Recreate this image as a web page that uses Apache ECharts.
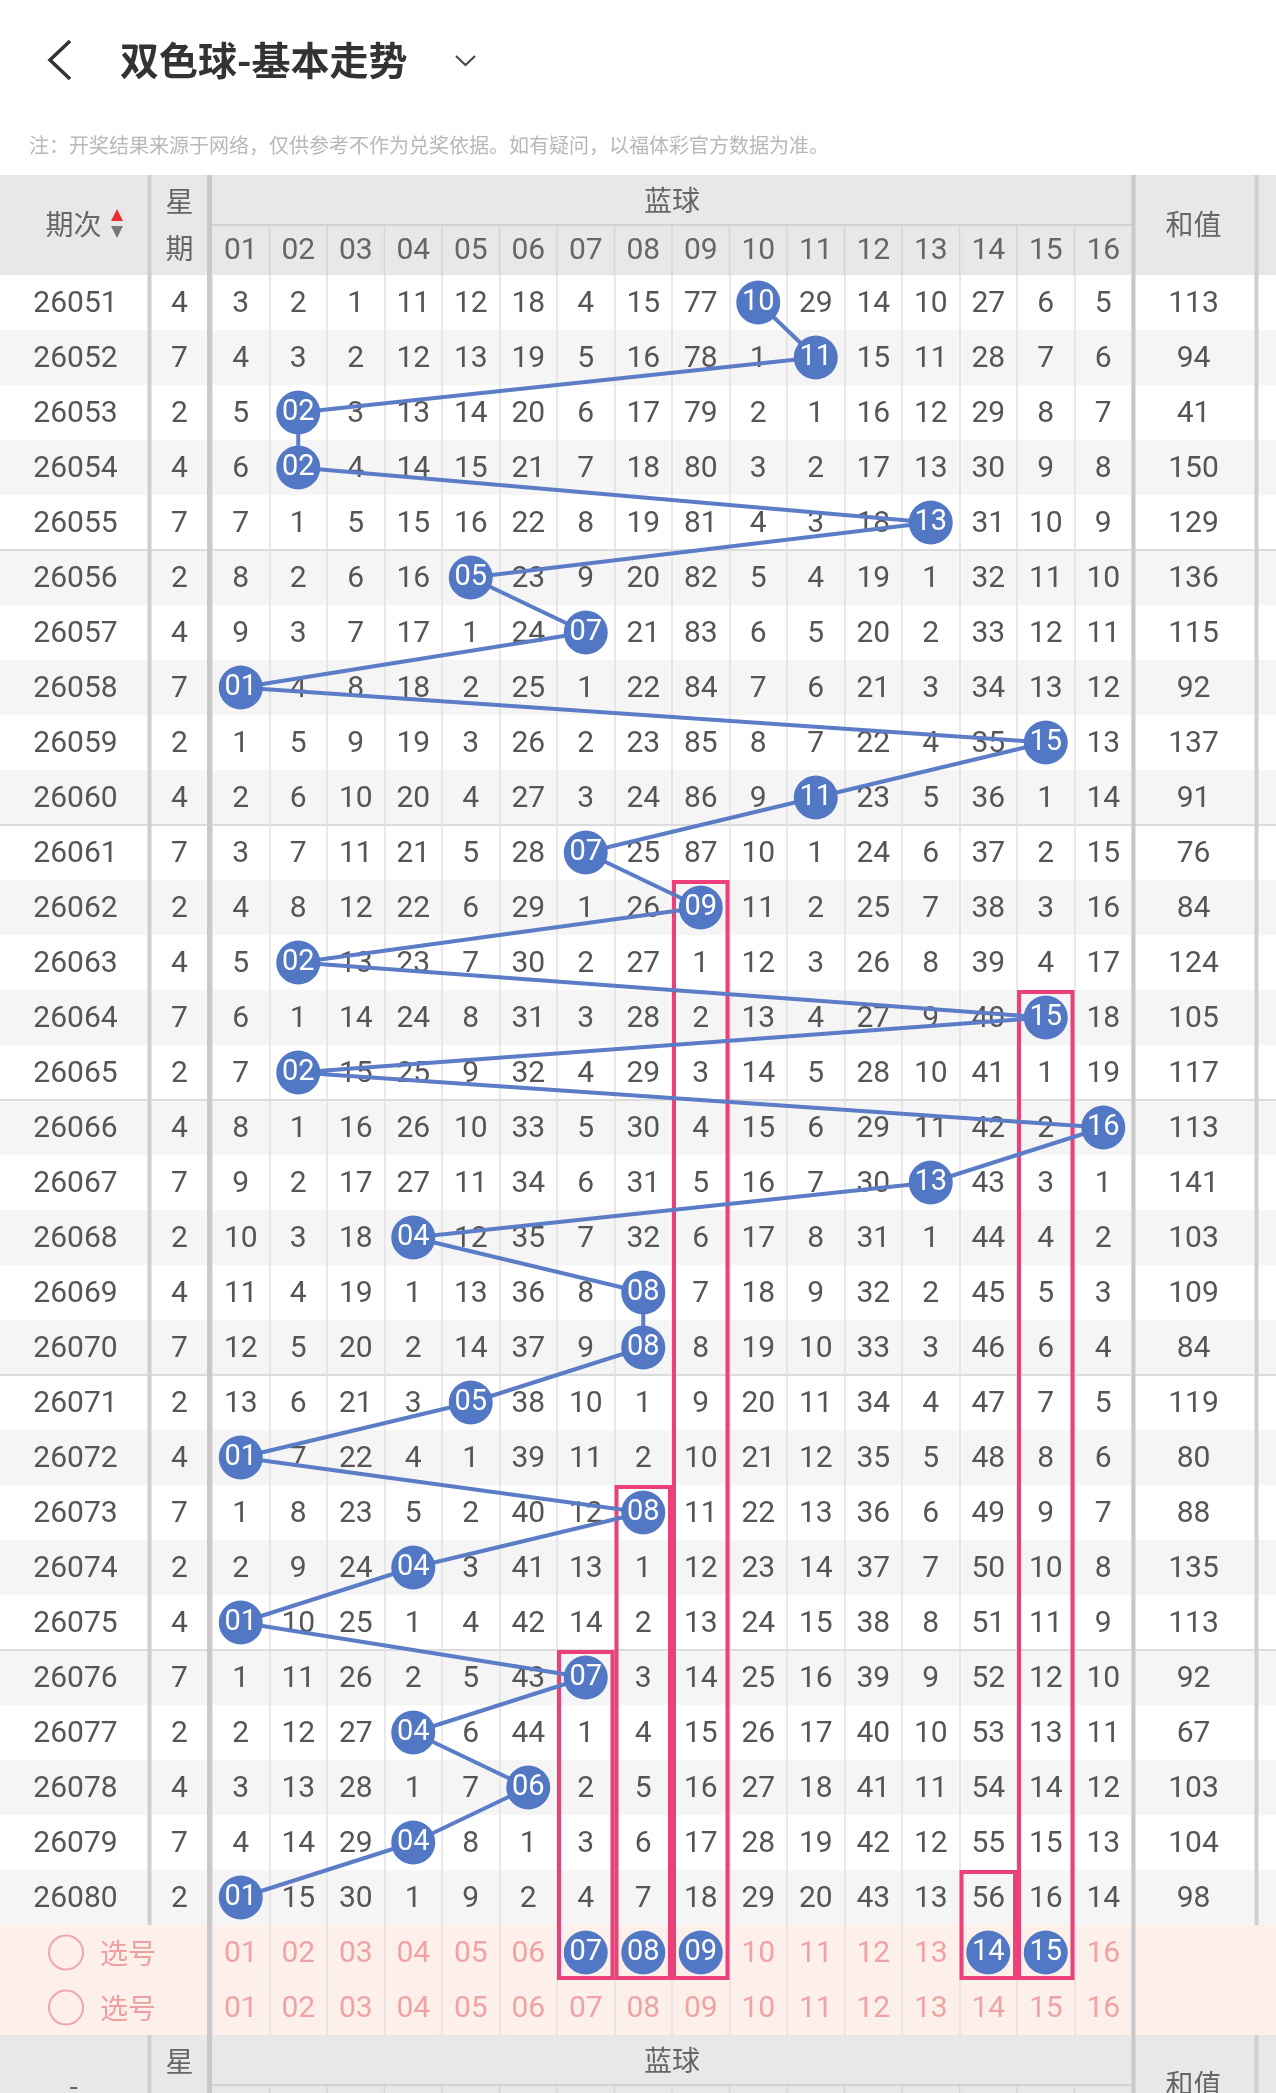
<!DOCTYPE html>
<html>
<head>
<meta charset="utf-8">
<title>双色球-基本走势</title>
<script src="https://cdn.jsdelivr.net/npm/echarts@6.0.0/dist/echarts.min.js"></script>
<style>
  html, body { margin: 0; padding: 0; background: #fff; }
  #chart { width: 1276px; height: 2093px; }
</style>
</head>
<body>
<div id="chart"></div>
<script>
// 期次 / 星期 / 和值
const periods = ['26051', '26052', '26053', '26054', '26055', '26056', '26057', '26058', '26059', '26060',
  '26061', '26062', '26063', '26064', '26065', '26066', '26067', '26068', '26069', '26070',
  '26071', '26072', '26073', '26074', '26075', '26076', '26077', '26078', '26079', '26080'];
const weekdays = [4, 7, 2, 4, 7, 2, 4, 7, 2, 4, 7, 2, 4, 7, 2, 4, 7, 2, 4, 7, 2, 4, 7, 2, 4, 7, 2, 4, 7, 2];
const sums = [113, 94, 41, 150, 129, 136, 115, 92, 137, 91, 76, 84, 124, 105, 117, 113, 141, 103, 109, 84,
  119, 80, 88, 135, 113, 92, 67, 103, 104, 98];
const balls = ['01', '02', '03', '04', '05', '06', '07', '08', '09', '10', '11', '12', '13', '14', '15', '16'];

// 遗漏值，0 = 当期开出的蓝球
const omission = [
  [3, 2, 1, 11, 12, 18, 4, 15, 77, 0, 29, 14, 10, 27, 6, 5],
  [4, 3, 2, 12, 13, 19, 5, 16, 78, 1, 0, 15, 11, 28, 7, 6],
  [5, 0, 3, 13, 14, 20, 6, 17, 79, 2, 1, 16, 12, 29, 8, 7],
  [6, 0, 4, 14, 15, 21, 7, 18, 80, 3, 2, 17, 13, 30, 9, 8],
  [7, 1, 5, 15, 16, 22, 8, 19, 81, 4, 3, 18, 0, 31, 10, 9],
  [8, 2, 6, 16, 0, 23, 9, 20, 82, 5, 4, 19, 1, 32, 11, 10],
  [9, 3, 7, 17, 1, 24, 0, 21, 83, 6, 5, 20, 2, 33, 12, 11],
  [0, 4, 8, 18, 2, 25, 1, 22, 84, 7, 6, 21, 3, 34, 13, 12],
  [1, 5, 9, 19, 3, 26, 2, 23, 85, 8, 7, 22, 4, 35, 0, 13],
  [2, 6, 10, 20, 4, 27, 3, 24, 86, 9, 0, 23, 5, 36, 1, 14],
  [3, 7, 11, 21, 5, 28, 0, 25, 87, 10, 1, 24, 6, 37, 2, 15],
  [4, 8, 12, 22, 6, 29, 1, 26, 0, 11, 2, 25, 7, 38, 3, 16],
  [5, 0, 13, 23, 7, 30, 2, 27, 1, 12, 3, 26, 8, 39, 4, 17],
  [6, 1, 14, 24, 8, 31, 3, 28, 2, 13, 4, 27, 9, 40, 0, 18],
  [7, 0, 15, 25, 9, 32, 4, 29, 3, 14, 5, 28, 10, 41, 1, 19],
  [8, 1, 16, 26, 10, 33, 5, 30, 4, 15, 6, 29, 11, 42, 2, 0],
  [9, 2, 17, 27, 11, 34, 6, 31, 5, 16, 7, 30, 0, 43, 3, 1],
  [10, 3, 18, 0, 12, 35, 7, 32, 6, 17, 8, 31, 1, 44, 4, 2],
  [11, 4, 19, 1, 13, 36, 8, 0, 7, 18, 9, 32, 2, 45, 5, 3],
  [12, 5, 20, 2, 14, 37, 9, 0, 8, 19, 10, 33, 3, 46, 6, 4],
  [13, 6, 21, 3, 0, 38, 10, 1, 9, 20, 11, 34, 4, 47, 7, 5],
  [0, 7, 22, 4, 1, 39, 11, 2, 10, 21, 12, 35, 5, 48, 8, 6],
  [1, 8, 23, 5, 2, 40, 12, 0, 11, 22, 13, 36, 6, 49, 9, 7],
  [2, 9, 24, 0, 3, 41, 13, 1, 12, 23, 14, 37, 7, 50, 10, 8],
  [0, 10, 25, 1, 4, 42, 14, 2, 13, 24, 15, 38, 8, 51, 11, 9],
  [1, 11, 26, 2, 5, 43, 0, 3, 14, 25, 16, 39, 9, 52, 12, 10],
  [2, 12, 27, 0, 6, 44, 1, 4, 15, 26, 17, 40, 10, 53, 13, 11],
  [3, 13, 28, 1, 7, 0, 2, 5, 16, 27, 18, 41, 11, 54, 14, 12],
  [4, 14, 29, 0, 8, 1, 3, 6, 17, 28, 19, 42, 12, 55, 15, 13],
  [0, 15, 30, 1, 9, 2, 4, 7, 18, 29, 20, 43, 13, 56, 16, 14]
];

// 选号行
const pickRows = ['选号1', '选号2'];
const pickedBalls = ['07', '08', '09', '14', '15'];
// 粉色框：号码 / 起始期次
const boxBalls = ['09', '15', '08', '07', '14'];
const boxFrom = ['26062', '26064', '26073', '26076', '26080'];

const rows = periods.concat(pickRows);
const NUM_FONT = 'Roboto, "Noto Sans CJK SC", sans-serif';
const CJK_FONT = '"Noto Sans CJK SC", sans-serif';
const TXT = '#555555';
const PINK_TXT = '#f0a3a3';
const BLUE = '#5277c4';

// 布局
const W = 1276;
const headTop = 175;
const rowTop = 275;
const rowH = 55;
const bodyH = rows.length * rowH;
const cols = [
  {left: 0, width: 151},     // 期次
  {left: 152, width: 55},    // 星期
  {left: 212, width: 920},   // 蓝球
  {left: 1135, width: 117}   // 和值
];
const colW = cols[2].width / balls.length;

const chart = echarts.init(document.getElementById('chart'));

function textEl(x, y, text, size, color, font, weight) {
  return {
    type: 'text', x: x, y: y, z: 10,
    style: {
      text: text, fill: color, fontSize: size, fontFamily: font || CJK_FONT,
      fontWeight: weight || 'normal', align: 'center', verticalAlign: 'middle'
    }
  };
}

function vline(x, y1, y2, color, width) {
  return {type: 'line', z: 10, shape: {x1: x, y1: y1, x2: x, y2: y2}, style: {stroke: color, lineWidth: width}};
}

// 表头（顶部和底部重复）
function header(y0, firstLabel, withSort) {
  const els = [];
  els.push({type: 'rect', z: 0, shape: {x: 0, y: y0, width: W, height: 100}, style: {fill: '#e8e8e8'}});
  els.push(textEl(73.5, y0 + (withSort ? 49 : 50), firstLabel, 28, '#666'));
  if (withSort) {
    els.push({type: 'polygon', z: 10, shape: {points: [[117, y0 + 34], [111, y0 + 46], [123, y0 + 46]]}, style: {fill: '#e8302f'}});
    els.push({type: 'polygon', z: 10, shape: {points: [[111, y0 + 51], [123, y0 + 51], [117, y0 + 63]]}, style: {fill: '#777'}});
  }
  els.push(textEl(179.5, y0 + 26, '星', 28, '#666'));
  els.push(textEl(179.5, y0 + 73, '期', 28, '#666'));
  els.push(textEl(cols[2].left + cols[2].width / 2, y0 + 25, '蓝球', 28, '#666'));
  els.push(textEl(cols[3].left + cols[3].width / 2, y0 + 49, '和值', 28, '#666'));
  els.push({type: 'line', z: 10, shape: {x1: cols[2].left, y1: y0 + 50, x2: cols[2].left + cols[2].width, y2: y0 + 50},
    style: {stroke: '#d2d2d2', lineWidth: 2}});
  for (let k = 1; k < balls.length; k++) {
    els.push(vline(cols[2].left + k * colW, y0 + 51, y0 + 100, '#d6d6d6', 1.5));
  }
  return els;
}

const bottomHead = rowTop + bodyH;
const lastRowBottom = rowTop + periods.length * rowH;

const graphics = [
  {type: 'polyline', z: 10, shape: {points: [[70, 41], [50, 60], [70, 79]]}, style: {stroke: '#333', lineWidth: 3.5, fill: null}},
  {type: 'text', x: 120, y: 60, z: 10, style: {text: '双色球-基本走势', fontSize: 39, fontWeight: 'bold', fill: '#333',
    fontFamily: CJK_FONT, align: 'left', verticalAlign: 'middle'}},
  {type: 'polyline', z: 10, shape: {points: [[456, 56], [465.5, 65], [475, 56]]}, style: {stroke: '#444', lineWidth: 2, fill: null}},
  {type: 'text', x: 29, y: 145, z: 10, style: {text: '注：开奖结果来源于网络，仅供参考不作为兑奖依据。如有疑问，以福体彩官方数据为准。',
    fontSize: 20, fill: '#b8b8b8', fontFamily: CJK_FONT, align: 'left', verticalAlign: 'middle'}}
].concat(header(headTop, '期次', true), header(bottomHead, '-', false));

// 分隔竖线
graphics.push(vline(149.5, headTop, lastRowBottom, '#cfcfcf', 4));
graphics.push(vline(149.5, bottomHead, 2093, '#cfcfcf', 4));
graphics.push(vline(209.5, headTop, 2093, '#c9c9c9', 5));
graphics.push(vline(1133.5, headTop, 2093, '#c9c9c9', 4));
graphics.push(vline(1256.5, headTop, lastRowBottom, '#cfcfcf', 4));
graphics.push(vline(1256.5, bottomHead, 2093, '#cfcfcf', 4));

// 各列的网格和坐标轴
const grids = cols.map(c => ({left: c.left, width: c.width, top: rowTop, height: bodyH}));
const xAxes = [
  {gridIndex: 0, type: 'category', data: ['期次'], show: false},
  {gridIndex: 1, type: 'category', data: ['星期'], show: false},
  {gridIndex: 2, type: 'category', data: balls, position: 'top', z: 3,
    axisLine: {show: false}, axisTick: {show: false},
    axisLabel: {show: true, interval: 0, margin: 24, verticalAlign: 'middle', fontSize: 30, color: '#666', fontFamily: NUM_FONT},
    splitLine: {show: true, interval: 0, lineStyle: {color: '#e0e0e0', width: 1.5}}},
  {gridIndex: 3, type: 'category', data: ['和值'], show: false}
];
const yAxes = cols.map((c, i) => ({gridIndex: i, type: 'category', data: rows, inverse: true, show: false}));

// 行背景 + 每5期分隔线
function renderRowBg(params, api) {
  const i = params.dataIndex;
  const y = api.coord([0, i])[1];
  const h = api.size([0, 1])[1];
  const top = y - h / 2;
  const fill = i >= periods.length ? '#fdf0eb' : (i % 2 ? '#f5f5f5' : '#ffffff');
  const children = [{type: 'rect', shape: {x: 0, y: top, width: api.getWidth(), height: h}, style: {fill: fill}}];
  if (i > 0 && i < periods.length && i % 5 === 0) {
    children.push({type: 'line', shape: {x1: 0, y1: top, x2: api.getWidth(), y2: top}, style: {stroke: '#dcdcdc', lineWidth: 2}});
  }
  return {type: 'group', children: children};
}

function cellText(p, text, color) {
  return {type: 'text', x: p[0], y: p[1] + 2,
    style: {text: text, fill: color, fontSize: 30, fontFamily: NUM_FONT, align: 'center', verticalAlign: 'middle'}};
}

// 期次列（含选号标签）
function renderPeriod(params, api) {
  const i = params.dataIndex;
  const p = api.coord([0, i]);
  if (i < periods.length) return cellText(p, periods[i], TXT);
  return {type: 'group', children: [
    {type: 'circle', shape: {cx: p[0] - 9.5, cy: p[1], r: 17}, style: {fill: null, stroke: '#f0a8a8', lineWidth: 2}},
    {type: 'text', x: p[0] + 52.5, y: p[1] + 1, style: {text: '选号', fill: '#ef9f9f', fontSize: 28, fontFamily: CJK_FONT,
      align: 'center', verticalAlign: 'middle'}}
  ]};
}

// 蓝球遗漏数字
const cellData = [];
const cellLabels = [];
const cellColors = [];
omission.forEach((row, r) => row.forEach((v, c) => {
  if (v > 0) { cellData.push([c, r]); cellLabels.push(String(v)); cellColors.push(TXT); }
}));
pickRows.forEach((name, k) => balls.forEach((b, c) => {
  if (k === 0 && pickedBalls.indexOf(b) >= 0) return;
  cellData.push([c, periods.length + k]); cellLabels.push(b); cellColors.push(PINK_TXT);
}));

function renderCell(params, api) {
  const p = api.coord([api.value(0), api.value(1)]);
  return cellText(p, cellLabels[params.dataIndex], cellColors[params.dataIndex]);
}

// 粉色框
const boxData = boxBalls.map((b, k) => [balls.indexOf(b), periods.indexOf(boxFrom[k]), periods.length]);
function renderBox(params, api) {
  const a = api.coord([api.value(0), api.value(1)]);
  const b = api.coord([api.value(0), api.value(2)]);
  const sz = api.size([1, 1]);
  const x = a[0] - sz[0] / 2 + 2;
  const y = a[1] - sz[1] / 2 + 2;
  return {type: 'rect', shape: {x: x, y: y, width: sz[0] - 4, height: b[1] + sz[1] / 2 - y - 2},
    style: {fill: null, stroke: '#ec407a', lineWidth: 4}};
}

const drawLine = periods.map((p, i) => [balls[omission[i].indexOf(0)], p]);
const pickData = pickedBalls.map(b => [b, pickRows[0]]);
const ballLabel = {show: true, position: 'inside', formatter: p => p.value[0], color: '#fff', fontSize: 29, fontFamily: NUM_FONT};

const option = {
  animation: false,
  backgroundColor: '#fff',
  graphic: {elements: graphics},
  grid: grids,
  xAxis: xAxes,
  yAxis: yAxes,
  series: [
    {type: 'custom', xAxisIndex: 0, yAxisIndex: 0, z: 1, silent: true, renderItem: renderRowBg,
      data: rows.map((r, i) => [0, i])},
    {type: 'custom', xAxisIndex: 0, yAxisIndex: 0, z: 4, silent: true, renderItem: renderPeriod,
      data: rows.map((r, i) => [0, i])},
    {type: 'custom', xAxisIndex: 1, yAxisIndex: 1, z: 4, silent: true,
      renderItem: (params, api) => cellText(api.coord([0, params.dataIndex]), String(weekdays[params.dataIndex]), TXT),
      data: weekdays.map((w, i) => [0, i])},
    {type: 'custom', xAxisIndex: 3, yAxisIndex: 3, z: 4, silent: true,
      renderItem: (params, api) => cellText(api.coord([0, params.dataIndex]), String(sums[params.dataIndex]), TXT),
      data: sums.map((s, i) => [0, i])},
    {type: 'custom', xAxisIndex: 2, yAxisIndex: 2, z: 4, silent: true, renderItem: renderCell,
      encode: {x: 0, y: 1}, data: cellData},
    {type: 'custom', xAxisIndex: 2, yAxisIndex: 2, z: 5, silent: true, renderItem: renderBox,
      encode: {x: 0, y: [1, 2]}, data: boxData},
    {type: 'line', xAxisIndex: 2, yAxisIndex: 2, z: 6, silent: true, data: drawLine,
      symbol: 'circle', symbolSize: 44, showAllSymbol: true,
      lineStyle: {color: '#5b7cc6', width: 4}, itemStyle: {color: BLUE, opacity: 1}, label: ballLabel},
    {type: 'scatter', xAxisIndex: 2, yAxisIndex: 2, z: 7, silent: true, data: pickData,
      symbol: 'circle', symbolSize: 44, itemStyle: {color: BLUE, opacity: 1}, label: ballLabel}
  ]
};
chart.setOption(option);
</script>
</body>
</html>
